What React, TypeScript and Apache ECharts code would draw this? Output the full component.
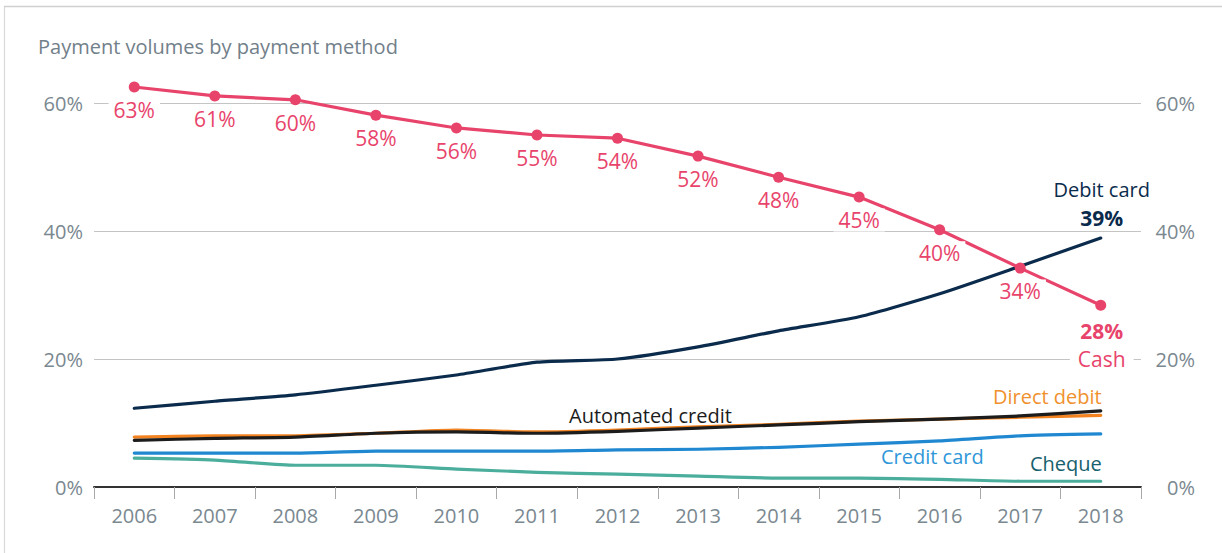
import React, { useEffect, useRef } from "react";
import * as echarts from "echarts";

const years = ["2006", "2007", "2008", "2009", "2010", "2011", "2012", "2013", "2014", "2015", "2016", "2017", "2018"];
const cash = [62.5, 61.1, 60.5, 58.1, 56.1, 55.0, 54.5, 51.7, 48.4, 45.3, 40.2, 34.2, 28.4];
const cashLabels = ["63%", "61%", "60%", "58%", "56%", "55%", "54%", "52%", "48%", "45%", "40%", "34%", "28%"];
const debitCard = [12.3, 13.4, 14.4, 15.9, 17.5, 19.5, 20.0, 21.9, 24.4, 26.6, 30.2, 34.5, 38.9];
const automatedCredit = [7.3, 7.6, 7.8, 8.4, 8.6, 8.4, 8.7, 9.2, 9.7, 10.2, 10.6, 11.1, 11.9];
const directDebit = [7.8, 8.0, 8.0, 8.4, 8.9, 8.6, 8.9, 9.4, 9.8, 10.3, 10.6, 10.9, 11.2];
const creditCard = [5.3, 5.3, 5.3, 5.6, 5.6, 5.6, 5.8, 5.9, 6.2, 6.7, 7.2, 8.0, 8.3];
const cheque = [4.5, 4.2, 3.4, 3.4, 2.8, 2.3, 2.0, 1.7, 1.4, 1.4, 1.2, 0.9, 0.9];
const yMin = 0;
const yMax = 60;
const yInterval = 20;
const title = "Payment volumes by payment method";
const debitEndLabel = "39%";
const cashEndLabel = "28%";

const FONT = "'Open Sans', 'Noto Sans', sans-serif";
const C = {
  cash: "#E8446B",
  debit: "#0B2B4C",
  auto: "#1C1C1C",
  direct: "#F28320",
  directText: "#F0912E",
  credit: "#1F88D1",
  creditText: "#2F97D9",
  cheque: "#4BAE9C",
  chequeText: "#17606D",
  grey: "#7A8890",
  grid: "#C4C4C4",
};

export default function App() {
  const ref = useRef<HTMLDivElement>(null);
  useEffect(() => {
    if (!ref.current) return;
    const chart = echarts.init(ref.current, undefined, { renderer: "svg" });
    const line = (name: string, data: any[], color: string, extra: any = {}) => ({
      name,
      type: "line",
      data,
      clip: false,
      showSymbol: false,
      symbol: "none",
      smooth: 0.2,
      lineStyle: { color, width: 3.2, cap: "round", join: "round" },
      itemStyle: { color },
      z: 2,
      ...extra,
    });
    chart.setOption({
      animation: false,
      title: {
        text: title,
        left: 38,
        top: 36,
        padding: 0,
        textStyle: { fontFamily: FONT, fontSize: 20, fontWeight: "normal", color: "#72808A" },
      },
      grid: { left: 94, right: 81, top: 103, bottom: 66 },
      xAxis: {
        type: "category",
        data: years,
        boundaryGap: true,
        axisLine: { lineStyle: { color: "#333", width: 2 } },
        axisTick: { show: true, length: 12, lineStyle: { color: "#A8A8A8", width: 1 } },
        axisLabel: { margin: 18, color: C.grey, fontFamily: FONT, fontSize: 20 },
        splitLine: { show: false },
      },
      yAxis: [
        {
          type: "value",
          min: yMin,
          max: yMax,
          interval: yInterval,
          position: "left",
          axisLine: { show: false },
          axisTick: { show: false },
          axisLabel: { formatter: "{value}%", margin: 11, color: C.grey, fontFamily: FONT, fontSize: 20 },
          splitLine: { lineStyle: { color: C.grid, width: 1 } },
        },
        {
          type: "value",
          min: yMin,
          max: yMax,
          interval: yInterval,
          position: "right",
          axisLine: { show: false },
          axisTick: { show: false },
          axisLabel: { formatter: "{value}%", margin: 54, align: "right", color: C.grey, fontFamily: FONT, fontSize: 20 },
          splitLine: { show: false },
        },
      ],
      series: [
        line("Cheque", cheque, C.cheque),
        line("Credit card", creditCard, C.credit),
        line("Direct debit", directDebit, C.direct),
        line("Automated credit", automatedCredit, C.auto),
        line("Debit card", debitCard, C.debit),
        {
          name: "Cash",
          type: "line",
          data: cash.map((v, i) => (i === cash.length - 1 ? { value: v, label: { show: false } } : v)),
          clip: false,
          smooth: false,
          symbol: "circle",
          symbolSize: 11,
          showSymbol: true,
          lineStyle: { color: C.cash, width: 3.2 },
          itemStyle: { color: C.cash },
          z: 3,
          label: {
            show: true,
            position: "bottom",
            distance: 6,
            formatter: (p: any) => cashLabels[p.dataIndex],
            color: C.cash,
            fontFamily: FONT,
            fontSize: 21,
            backgroundColor: "#fff",
            padding: [1, 5],
          },
        },
      ],
    });

    const last = years.length - 1;
    const px = (idx: number, v: number) => chart.convertToPixel({ gridIndex: 0 }, [idx, v]) as number[];
    const dPt = px(last, debitCard[last]);
    const cPt = px(last, cash[last]);
    const ddPt = px(last, directDebit[last]);
    const chPt = px(last, cheque[last]);
    const ccPt = px(last, creditCard[last]);
    const acPt = px(6, automatedCredit[6]);
    const txt = (text: string, x: number, y: number, fill: string, align: string, extra: any = {}) => ({
      type: "text",
      z: 10,
      style: {
        text,
        x,
        y,
        fill,
        font: `${extra.bold ? "bold " : ""}${extra.size || 20}px ${FONT}`,
        textAlign: align,
        textVerticalAlign: "middle",
        ...(extra.bg ? { backgroundColor: "#fff", padding: [2, 8] } : {}),
      },
    });
    chart.setOption({
      graphic: [
        { type: "line", shape: { x1: 4.5, y1: 6.5, x2: 4.5, y2: 553 }, style: { stroke: "#DADADA", lineWidth: 1.2 } },
        { type: "line", shape: { x1: 4, y1: 6.5, x2: 1222, y2: 6.5 }, style: { stroke: "#D0D0D0", lineWidth: 1.5 } },
        txt("Debit card", dPt[0] + 1, dPt[1] - 49, C.debit, "center"),
        txt(debitEndLabel, dPt[0] + 1, dPt[1] - 20, C.debit, "center", { bold: true, size: 21 }),
        txt(cashEndLabel, cPt[0] + 1, cPt[1] + 26, C.cash, "center", { bold: true, size: 21 }),
        txt("Cash", cPt[0] + 1, cPt[1] + 54, C.cash, "center", { bg: true, size: 21 }),
        txt("Direct debit", ddPt[0] + 1, ddPt[1] - 19, C.directText, "right"),
        txt("Cheque", chPt[0] + 1, chPt[1] - 18, C.chequeText, "right"),
        txt("Credit card", ccPt[0] - 117, ccPt[1] + 23, C.creditText, "right"),
        txt("Automated credit", acPt[0] + 33, acPt[1] - 16, C.auto, "center"),
      ],
    });
    return () => chart.dispose();
  }, []);
  return <div ref={ref} style={{ position: "absolute", left: 0, top: 0, width: 1222, height: 553 }} />;
}
